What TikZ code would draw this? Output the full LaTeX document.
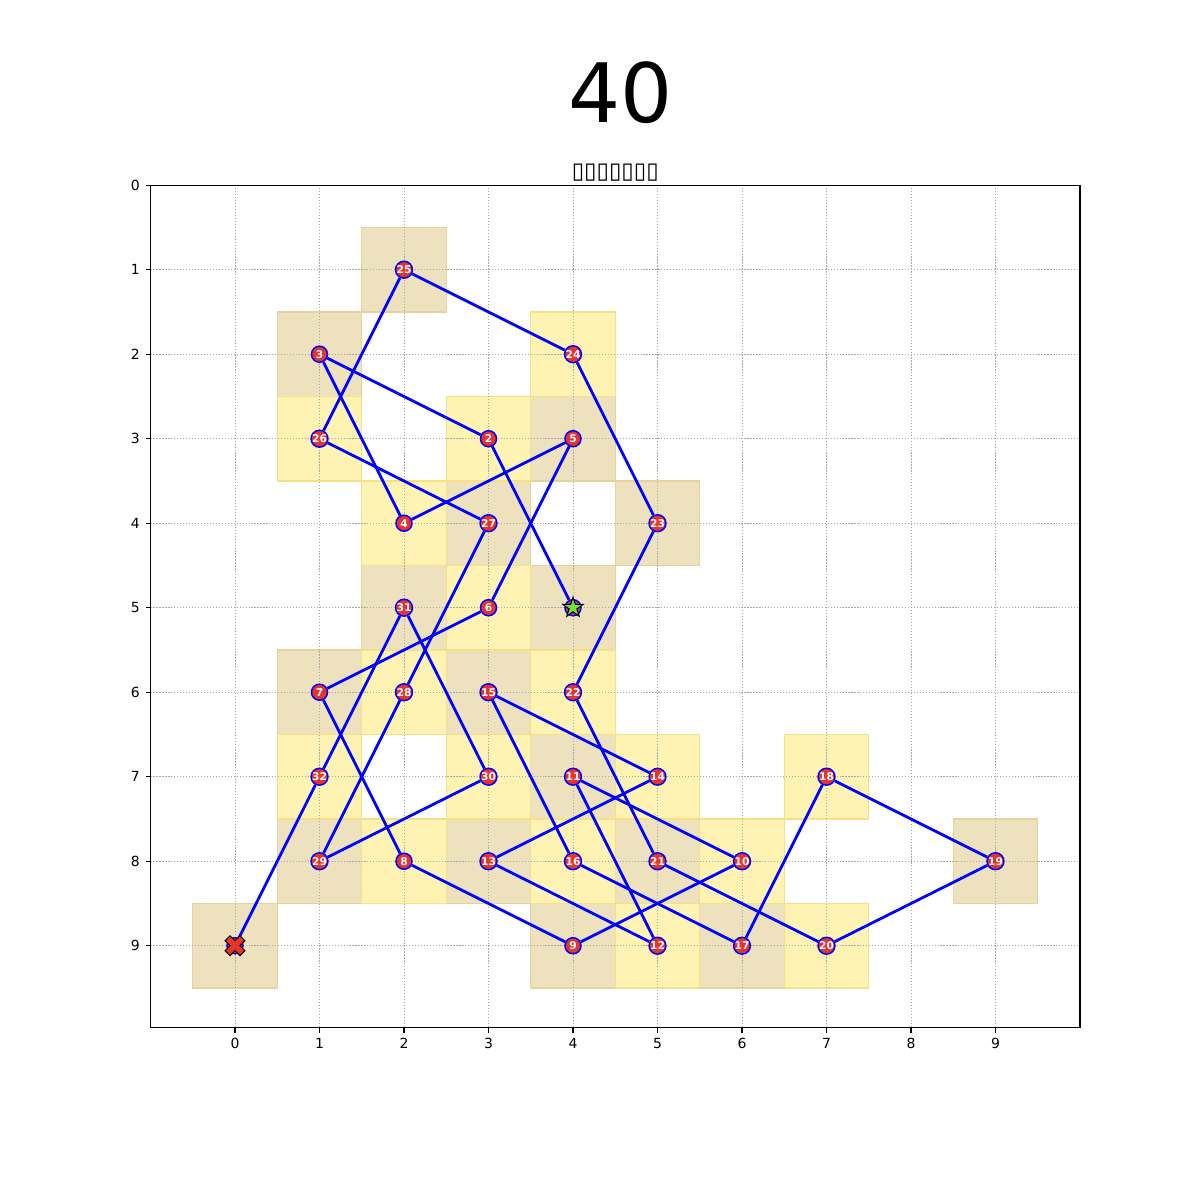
\documentclass[tikz,border=0pt]{standalone}
\usepackage{fontspec}
\setmainfont{DejaVu Sans}
\usepackage{tikz}
\usetikzlibrary{shapes.geometric}
\usepackage{xcolor}
\definecolor{goldfill}{HTML}{FFF3B3}
\definecolor{goldline}{HTML}{F7DF86}
\definecolor{tanfill}{HTML}{EEE2BE}
\definecolor{tanline}{HTML}{E5D29C}
\definecolor{visitred}{HTML}{E8322A}
\definecolor{routeblue}{HTML}{0000FF}
\definecolor{startgreen}{HTML}{6CE63A}
\definecolor{gridgray}{HTML}{A8A8A8}
\tikzset{
  goldcell/.style={fill=goldfill,draw=goldline,line width=0.45pt},
  tancell/.style={fill=tanfill,draw=tanline,line width=0.45pt},
  gridline/.style={draw=gridgray,line width=0.25pt,dash pattern=on 0.4pt off 0.6pt},
  frame/.style={draw=black,line width=0.4pt},
  tickmark/.style={draw=black,line width=0.4pt},
  ticklabel/.style={font=\fontsize{4.7}{5.6}\selectfont,inner sep=0pt},
  titletext/.style={font=\fontsize{27.6}{32}\selectfont,inner sep=0pt},
  subtitle/.style={font=\fontsize{7.6}{9}\selectfont,inner sep=0pt},
  visit/.style={circle,fill=visitred,draw=routeblue,line width=0.5pt,
    minimum size=0.19cm,inner sep=0pt,text=white,
    font=\fontsize{3.6}{4}\selectfont\bfseries},
  route/.style={draw=routeblue,line width=0.94pt},
  startmark/.style={star,star points=5,star point ratio=2.618,fill=startgreen,
    draw=black,line width=0.35pt,minimum size=0.25cm,inner sep=0pt},
  endmark/.style={fill=visitred,draw=black,line width=0.35pt}
}
\begin{document}
\begin{tikzpicture}[x=1cm,y=-1cm]
  \useasboundingbox (-2.781,-2.192) rectangle (11.420,12.005);
  \node[titletext] (ttl) at (4.56,-1.101) {40};
  \node[subtitle,anchor=base] (sub) at (4.5,-0.075) {▯▯▯▯▯▯▯};
  % visited squares
  \foreach \cx/\cy in {2/1,1/2,4/3,3/4,5/4,2/5,4/5,1/6,3/6,4/7,1/8,3/8,5/8,9/8,0/9,4/9,6/9}
    \draw[tancell] (\cx-0.5,\cy-0.5) rectangle (\cx+0.5,\cy+0.5);
  \foreach \cx/\cy in {4/2,1/3,3/3,2/4,3/5,2/6,4/6,1/7,3/7,5/7,7/7,2/8,4/8,6/8,5/9,7/9}
    \draw[goldcell] (\cx-0.5,\cy-0.5) rectangle (\cx+0.5,\cy+0.5);
  % axes
  \foreach \i in {0,...,9} {
    \draw[gridline] (\i,0) -- (\i,9.97);
    \draw[gridline] (-1,\i) -- (10,\i);
    \draw[tickmark] (\i,9.97) -- (\i,10.028);
    \draw[tickmark] (-1,\i) -- (-1.058,\i);
    \node[ticklabel,anchor=north] (xt\i) at (\i,10.085) {\i};
    \node[ticklabel,anchor=east] (yt\i) at (-1.12,\i) {\i};
  }
  \draw[frame] (-1,0) rectangle (10,9.97);
  % tour
  \node[visit] (p1) at (4,5) {};
  \foreach \n/\px/\py in {2/3/3,3/1/2,4/2/4,5/4/3,6/3/5,7/1/6,8/2/8,9/4/9,10/6/8,
      11/4/7,12/5/9,13/3/8,14/5/7,15/3/6,16/4/8,17/6/9,18/7/7,19/9/8,20/7/9,
      21/5/8,22/4/6,23/5/4,24/4/2,25/2/1,26/1/3,27/3/4,28/2/6,29/1/8,30/3/7,
      31/2/5,32/1/7}
    \node[visit] (p\n) at (\px,\py) {\n};
  \node[visit] (p33) at (0,9) {};
  \foreach \a [evaluate=\a as \b using int(\a+1)] in {1,...,32}
    \draw[route] (p\a) -- (p\b);
  \node[startmark] (start) at (p1) {};
  \draw[endmark,shift={(p33.center)},scale=0.059] (-1,-2) -- (0,-1) -- (1,-2)
    -- (2,-1) -- (1,0) -- (2,1) -- (1,2) -- (0,1) -- (-1,2) -- (-2,1) -- (-1,0)
    -- (-2,-1) -- cycle;
\end{tikzpicture}
\end{document}
